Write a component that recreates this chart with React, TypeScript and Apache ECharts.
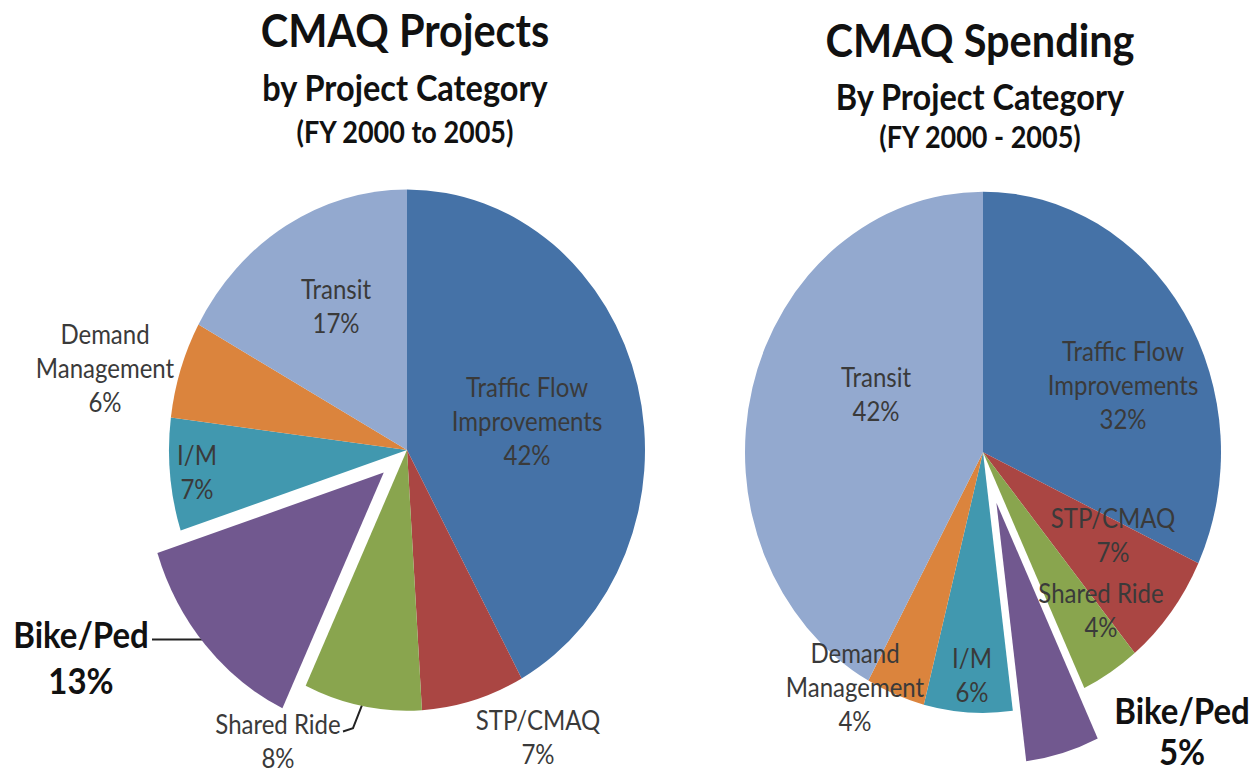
import React, { useEffect, useRef } from 'react';
import * as echarts from 'echarts';

// ---- data ----
const categories = [
  'Traffic Flow Improvements',
  'STP/CMAQ',
  'Shared Ride',
  'Bike/Ped',
  'I/M',
  'Demand Management',
  'Transit',
];
const projectShares = [42, 7, 8, 13, 7, 6, 17];
const spendingShares = [32, 7, 4, 5, 6, 4, 42];
const highlighted = 'Bike/Ped';

const projectTitles = ['CMAQ Projects', 'by Project Category', '(FY 2000 to 2005)'];
const spendingTitles = ['CMAQ Spending', 'By Project Category', '(FY 2000 - 2005)'];

// ---- styling / layout ----
const colors = ['#4572A7', '#AA4643', '#89A54E', '#71588F', '#4198AF', '#DB843D', '#93A9CF'];
const labelBreaks: Record<string, string> = {
  'Traffic Flow Improvements': 'Traffic Flow\nImprovements',
  'Demand Management': 'Demand\nManagement',
};
const W = 1253;
const SY = 1.095;
const H = Math.round(772 / SY);
const FONT = 'Lato, Carlito, Calibri, sans-serif';
const TRANSPARENT = 'rgba(0,0,0,0)';

const leftCenter = [407, 411];
const rightCenter = [983, 413];
const RADIUS = 238;

const projectLabelOffsets = [[120, -27], [131, 262], [-129, 265], [-326, 189], [-210, 20], [-302, -75], [-71, -132]];
const spendingLabelOffsets = [[140, -62], [130, 75], [118, 144], [199, 254], [-11, 203], [-128, 214], [-107, -54]];
const projectLeaders: Record<number, number[][]> = {
  3: [[-255, 173], [-203, 173], [-200, 169]],
  2: [[-64, 257], [-54, 254], [-45, 233]],
};
const spendingLeaders: Record<number, number[][]> = {};

const titleSizes = [41.5, 32.5, 27];
const projectTitleY = [27, 79, 120];
const spendingTitleY = [36, 88, 125];

function baseLabel(center: number[], offsets: number[][], leaders: Record<number, number[][]>) {
  return {
    label: {
      show: true,
      position: 'outside',
      formatter: (p: any) => `${labelBreaks[p.name] ?? p.name}\n${p.value}%`,
      color: '#3a3a3a',
      fontSize: 24,
      lineHeight: 31,
      fontFamily: FONT,
      align: 'center',
    },
    labelLine: { show: false },
    labelLayout: (p: any) => {
      const off = offsets[p.dataIndex];
      const out: any = {
        x: center[0] + off[0],
        y: center[1] + off[1],
        align: 'center',
        verticalAlign: 'middle',
      };
      const pts = leaders[p.dataIndex];
      if (pts) out.labelLinePoints = pts.map(([a, b]) => [center[0] + a, center[1] + b]);
      return out;
    },
  };
}

function pieSeries(
  values: number[],
  center: number[],
  offsets: number[][],
  leaders: Record<number, number[][]>,
  explode: number,
  hiLineHeight: number
) {
  const total = values.reduce((s, v) => s + v, 0);
  const hi = categories.indexOf(highlighted);
  const before = values.slice(0, hi).reduce((s, v) => s + v, 0);
  const mid = ((before + values[hi] / 2) / total) * 2 * Math.PI;
  const shifted = [center[0] + Math.sin(mid) * explode, center[1] - Math.cos(mid) * explode];

  const common = {
    type: 'pie',
    radius: RADIUS,
    startAngle: 90,
    clockwise: true,
    silent: true,
    avoidLabelOverlap: false,
    emphasis: { disabled: true },
    ...baseLabel(center, offsets, leaders),
  };
  const leaderStyle = { show: true, lineStyle: { color: '#222', width: 2 } };

  const mainPie = {
    ...common,
    center,
    data: categories.map((name, i) => ({
      name,
      value: values[i],
      itemStyle: { color: i === hi ? TRANSPARENT : colors[i] },
      label: i === hi ? { show: false } : undefined,
      labelLine: leaders[i] && i !== hi ? leaderStyle : { show: false },
    })),
  };
  const explodedPie = {
    ...common,
    center: shifted,
    data: categories.map((name, i) => ({
      name,
      value: values[i],
      itemStyle: { color: i === hi ? colors[i] : TRANSPARENT },
      label:
        i === hi
          ? { show: true, fontSize: 33, fontWeight: 'bold', color: '#111', lineHeight: hiLineHeight }
          : { show: false },
      labelLine: leaders[i] && i === hi ? leaderStyle : { show: false },
    })),
  };
  return [mainPie, explodedPie];
}

function titleTexts(lines: string[], cx: number, ys: number[]) {
  return lines.map((text, i) => ({
    type: 'text',
    x: cx,
    y: ys[i],
    style: {
      text,
      fontSize: titleSizes[i],
      fontWeight: 'bold',
      fontFamily: FONT,
      fill: '#111',
      align: 'center',
      verticalAlign: 'middle',
    },
  }));
}

export default function App() {
  const ref = useRef<HTMLDivElement>(null);
  useEffect(() => {
    if (!ref.current) return;
    const chart = echarts.init(ref.current, null, { renderer: 'svg' });
    chart.setOption({
      animation: false,
      backgroundColor: '#fff',
      graphic: [
        ...titleTexts(projectTitles, 405, projectTitleY),
        ...titleTexts(spendingTitles, 980, spendingTitleY),
      ],
      series: [
        ...pieSeries(projectShares, leftCenter, projectLabelOffsets, projectLeaders, 31, 42),
        ...pieSeries(spendingShares, rightCenter, spendingLabelOffsets, spendingLeaders, 48, 38),
      ],
    });
    return () => chart.dispose();
  }, []);
  return (
    <div
      style={{
        position: 'fixed',
        left: 0,
        top: 0,
        width: W,
        height: 772,
        overflow: 'hidden',
        background: '#fff',
      }}
    >
      <div
        ref={ref}
        style={{
          width: W,
          height: H,
          transform: `scaleY(${SY})`,
          transformOrigin: '0 0',
        }}
      />
    </div>
  );
}
